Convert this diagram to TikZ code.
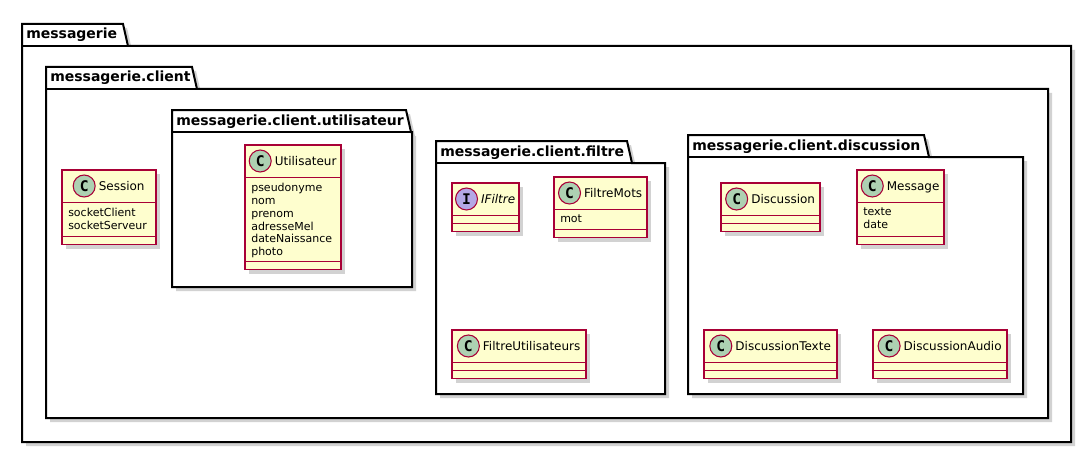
\documentclass[tikz,border=0pt]{standalone}
\usepackage{fontspec}
\setmainfont{DejaVu Sans}
\setmonofont{DejaVu Sans Mono}
\usepackage{tikz}
\usetikzlibrary{calc,shadows}
\definecolor{classbg}{RGB}{254,254,206}
\definecolor{classfg}{RGB}{168,0,54}
\definecolor{classspot}{RGB}{173,209,178}
\definecolor{ifacespot}{RGB}{180,167,229}
\tikzset{
  pkg/.style={draw=black, line width=1.5pt, fill=white, line join=miter,
    drop shadow={opacity=0.25, fill=black!70, shadow xshift=3pt, shadow yshift=-3pt}},
  pkgline/.style={draw=black, line width=1.5pt},
  pkgtitle/.style={inner sep=0, font=\fontsize{10.5}{12}\selectfont\bfseries},
  classbox/.style={draw=classfg, fill=classbg, line width=1pt, outer sep=0,
    drop shadow={opacity=0.25, fill=black!70, shadow xshift=3pt, shadow yshift=-3pt}},
  classline/.style={draw=classfg, line width=1pt},
  classname/.style={inner sep=0, font=\fontsize{9}{11}\selectfont},
  classattr/.style={inner sep=0, align=left, font=\fontsize{8.25}{9.6}\selectfont},
  spotclass/.style={circle, draw=classfg, fill=classspot, line width=0.8pt, inner sep=0,
    minimum size=16.5pt, font=\fontsize{11}{11}\selectfont\ttfamily\bfseries},
  spotiface/.style={spotclass, fill=ifacespot}
}

\begin{document}
\begin{tikzpicture}[x=0.75pt, y=-0.75pt]
\useasboundingbox (0,0) rectangle (1092,453);
% packages, outer first
\foreach \pid/\pname/\px/\py/\tabx/\pright/\pbottom in {
  messagerie/messagerie/22/24/123/1071/442,
  client/messagerie.client/46/67/192/1048/418,
  utilisateur/messagerie.client.utilisateur/172/110/406/412/287,
  filtre/messagerie.client.filtre/436/141/627/665/394,
  discussion/messagerie.client.discussion/688/135/924/1023/394}{
\draw[pkg] (\px,\py+22) -- (\px,\py) -- (\tabx,\py) -- (\tabx+5,\py+22) -- (\pright,\py+22) -- (\pright,\pbottom) -- (\px,\pbottom) -- cycle;
\draw[pkgline] (\px,\py+22) -- (\tabx+5,\py+22);
\node[pkgtitle, anchor=base west] (pkg-\pid) at (\px+4,\py+15) {\pname};
}
% classes
\foreach \cid/\cname/\cx/\cy/\bw/\ah/\attrs/\spot/\glyph in {
  session/Session/62/170/94/34/{socketClient\\socketServeur}/spotclass/C,
  utilisateur/Utilisateur/245/145/96/84/{pseudonyme\\nom\\prenom\\adresseMel\\dateNaissance\\photo}/spotclass/C,
  ifiltre/{\itshape IFiltre}/452/183/67/8/{}/spotiface/I,
  filtremots/FiltreMots/554/177/93/20/{mot}/spotclass/C,
  filtreutilisateurs/FiltreUtilisateurs/452/330/134/8/{}/spotclass/C,
  discussion/Discussion/721/183/99/8/{}/spotclass/C,
  message/Message/857/170/87/34/{texte\\date}/spotclass/C,
  discussiontexte/DiscussionTexte/704/330/133/8/{}/spotclass/C,
  discussionaudio/DiscussionAudio/873/330/134/8/{}/spotclass/C}{
\node[classbox, anchor=north west, minimum width={\bw*0.75pt}, minimum height={(40.5+\ah)*0.75pt}] (\cid) at (\cx,\cy) {};
\draw[classline] ($(\cid.north west)+(0,32.5)$) -- ($(\cid.north east)+(0,32.5)$);
\draw[classline] ($(\cid.north west)+(0,32.5+\ah)$) -- ($(\cid.north east)+(0,32.5+\ah)$);
\node[classname, anchor=base] (\cid-name) at ($(\cid.north)+(0,20.5)$) {\hspace*{19pt}\cname};
\node[\spot] (\cid-spot) at ($(\cid-name.base west)+(11,-4.5)$) {\glyph};
\node[classattr, anchor=north west] (\cid-attrs) at ($(\cid.north west)+(6,38)$) {\attrs};
}
\end{tikzpicture}
\end{document}
